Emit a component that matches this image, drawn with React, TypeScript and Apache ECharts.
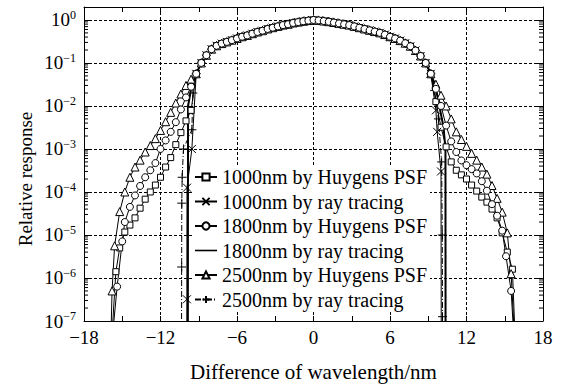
import React, { useEffect, useRef } from 'react';
import * as echarts from 'echarts';

const FONT = 'Liberation Serif, Times New Roman, Times, serif';

// Series names in legend order
const seriesNames = [
  '1000nm by Huygens PSF',
  '1000nm by ray tracing',
  '1800nm by Huygens PSF',
  '1800nm by ray tracing',
  '2500nm by Huygens PSF',
  '2500nm by ray tracing',
];

// Shared main lobe (all six curves overlap here)
const centerX = [
  -9.2, -8.8, -8.4, -8.0, -7.6, -7.2, -6.8, -6.4, -6.0, -5.6, -5.2, -4.8, -4.4, -4.0, -3.6, -3.2,
  -2.8, -2.4, -2.0, -1.6, -1.2, -0.8, -0.4, 0.0, 0.4, 0.8, 1.2, 1.6, 2.0, 2.4, 2.8, 3.2, 3.6, 4.0,
  4.4, 4.8, 5.2, 5.6, 6.0, 6.4, 6.8, 7.2, 7.6, 8.0, 8.4, 8.8, 9.2,
];
const centerY = [
  0.056, 0.1, 0.151, 0.209, 0.251, 0.282, 0.309, 0.339, 0.372, 0.407, 0.437, 0.479, 0.525, 0.562,
  0.617, 0.661, 0.708, 0.759, 0.794, 0.851, 0.891, 0.933, 0.966, 1.0, 0.977, 0.944, 0.912, 0.871,
  0.832, 0.794, 0.759, 0.708, 0.661, 0.617, 0.575, 0.537, 0.501, 0.457, 0.407, 0.372, 0.331, 0.288,
  0.245, 0.195, 0.145, 0.1, 0.056,
];

// 1000nm, Huygens PSF tails
const h1000LeftX = [-15.8, -15.5, -15.2, -14.8, -14.4, -14.0, -13.6, -13.2, -12.8, -12.4, -12.0, -11.6, -11.2, -10.8, -10.4, -10.0, -9.6];
const h1000LeftY = [5e-8, 1.4e-6, 5.0e-6, 1.17e-5, 1.7e-5, 2.5e-5, 4.2e-5, 6.8e-5, 1.0e-4, 1.45e-4, 2.2e-4, 3.8e-4, 6.3e-4, 1.26e-3, 2.4e-3, 4.5e-3, 7.9e-3];
const h1000RightX = [9.6, 10.0, 10.4, 10.8, 11.2, 11.6, 12.0, 12.4, 12.8, 13.2, 13.6, 14.0, 14.4, 14.8, 15.2, 15.6, 15.8];
const h1000RightY = [1.26e-2, 3.2e-3, 1.12e-3, 5.0e-4, 3.2e-4, 2.5e-4, 2.0e-4, 1.45e-4, 1.05e-4, 7.6e-5, 5.8e-5, 4.0e-5, 2.5e-5, 1.12e-5, 4.0e-6, 1.6e-6, 5e-8];

// 1800nm, Huygens PSF tails
const h1800LeftX = [-15.75, -15.4, -15.0, -14.8, -14.4, -14.0, -13.6, -13.2, -12.8, -12.4, -12.0, -11.6, -11.2, -10.8, -10.4, -10.0, -9.6];
const h1800LeftY = [5e-8, 6.3e-7, 7.1e-6, 2.0e-5, 4.5e-5, 8.3e-5, 1.38e-4, 2.2e-4, 3.2e-4, 4.7e-4, 1.0e-3, 1.58e-3, 2.5e-3, 4.2e-3, 8.3e-3, 1.58e-2, 2.8e-2];
const h1800RightX = [9.6, 10.0, 10.4, 10.8, 11.2, 11.6, 12.0, 12.4, 12.8, 13.2, 13.6, 14.0, 14.4, 14.8, 15.1, 15.5, 15.7];
const h1800RightY = [2.5e-2, 1.0e-2, 3.5e-3, 1.5e-3, 8.5e-4, 5.4e-4, 4.2e-4, 3.4e-4, 2.7e-4, 1.78e-4, 1.07e-4, 5.2e-5, 2.8e-5, 1.26e-5, 3.2e-6, 5.0e-7, 5e-8];

// 2500nm, Huygens PSF tails
const h2500LeftX = [-15.9, -15.8, -15.6, -15.2, -14.8, -14.4, -14.0, -13.6, -13.2, -12.8, -12.4, -12.0, -11.6, -11.2, -10.8, -10.4, -10.0, -9.6];
const h2500LeftY = [3.2e-8, 5.0e-7, 5.6e-6, 3.5e-5, 1.0e-4, 2.2e-4, 3.8e-4, 5.5e-4, 8.5e-4, 1.2e-3, 1.74e-3, 2.7e-3, 4.3e-3, 7.1e-3, 1.17e-2, 1.9e-2, 3.0e-2, 4.2e-2];
const h2500RightX = [9.6, 10.0, 10.4, 10.8, 11.2, 11.6, 12.0, 12.4, 12.8, 13.2, 13.6, 14.0, 14.4, 14.8, 15.2, 15.5, 15.75];
const h2500RightY = [3.2e-2, 1.78e-2, 1.0e-2, 5.0e-3, 2.5e-3, 1.66e-3, 1.15e-3, 7.9e-4, 5.5e-4, 3.8e-4, 2.6e-4, 1.41e-4, 7.1e-5, 3.4e-5, 1.12e-5, 1.26e-6, 5e-8];

// Ray-tracing edges (sharp cut-off)
const r1000LeftX = [-9.95, -9.93, -9.92, -9.54];
const r1000LeftY = [1e-9, 3.2e-7, 1.26e-4, 1.0e-3];
const r1000RightX = [9.6, 9.7, 10.0, 10.03];
const r1000RightY = [7.9e-3, 2.5e-3, 3.0e-4, 1e-9];

const r1800LeftX = [-9.86, -9.84, -9.6];
const r1800LeftY = [1e-9, 1.0e-2, 2.5e-2];
const r1800RightX = [9.6, 10.2, 10.35, 10.36];
const r1800RightY = [2.5e-2, 3.2e-3, 1.0e-3, 1e-9];

const r2500LeftX = [-10.36, -10.34, -10.33, -10.3, -10.2, -9.54, -9.46];
const r2500LeftY = [1e-9, 1.8e-6, 5.5e-5, 2.2e-4, 1.0e-3, 2.8e-3, 2.0e-2];
const r2500RightX = [9.5, 9.8, 10.05, 10.1, 10.12, 10.14];
const r2500RightY = [2.3e-2, 5.0e-3, 5.0e-4, 1.0e-5, 1.26e-7, 1e-9];

// Minor tick positions on the logarithmic axis
const minorMultipliers = [2, 3, 4, 5, 6, 7, 8, 9];
const minorDecades = [-7, -6, -5, -4, -3, -2, -1];

const pairs = (xs: number[], ys: number[]) => xs.map((x, i) => [x, ys[i]]);
const curve = (lx: number[], ly: number[], rx: number[], ry: number[]) => [
  ...pairs(lx, ly),
  ...pairs(centerX, centerY),
  ...pairs(rx, ry),
];

const markerStyle = { color: '#fff', borderColor: '#000', borderWidth: 1 };
const strokeOnly = { color: 'none', borderColor: '#000', borderWidth: 1 };

export default function App() {
  const ref = useRef<HTMLDivElement>(null);

  useEffect(() => {
    document.body.style.margin = '0';
    const chart = echarts.init(ref.current!, null, { renderer: 'svg' });

    const minorData: number[][] = [];
    minorDecades.forEach((d) => minorMultipliers.forEach((m) => minorData.push([-18, m * Math.pow(10, d)])));

    const lineBase = (name: string) => ({
      name,
      type: 'line',
      xAxisIndex: 0,
      yAxisIndex: 0,
      clip: true,
      showAllSymbol: true,
      z: 3,
    });

    const sup = (e: number) => (e < 0 ? '\u2212' + -e : String(e));

    // Plain solid stroke for the marker-less series in the legend
    const legendData = seriesNames.map((name) =>
      name === '1800nm by ray tracing' ? { name, icon: 'path://M0,0L22,0L22,1.6L0,1.6Z' } : { name },
    );

    chart.setOption({
      animation: false,
      backgroundColor: '#fff',
      textStyle: { fontFamily: FONT, color: '#000' },
      grid: { left: 84, right: 23, top: 7, bottom: 68, containLabel: false },
      legend: {
        data: legendData,
        orient: 'vertical',
        left: 192,
        top: 165,
        itemWidth: 22,
        itemHeight: 9,
        itemGap: 4.5,
        symbolKeepAspect: true,
        padding: [2, 3, 2, 2],
        backgroundColor: '#fff',
        selectedMode: false,
        textStyle: { fontFamily: FONT, fontSize: 20, color: '#000', lineHeight: 20 },
        z: 10,
      },
      xAxis: [
        {
          type: 'value',
          position: 'bottom',
          min: -18,
          max: 18,
          interval: 3,
          name: 'Difference of wavelength/nm',
          nameLocation: 'middle',
          nameGap: 40,
          nameTextStyle: { fontFamily: FONT, fontSize: 21, color: '#000' },
          axisLine: { show: true, onZero: false, lineStyle: { color: '#000', width: 1 } },
          axisTick: { show: true, inside: true, length: 5, lineStyle: { color: '#000' } },
          axisLabel: {
            margin: 7,
            fontFamily: FONT,
            fontSize: 19,
            color: '#000',
            formatter: (v: number) => (Math.round(v) % 6 === 0 ? (v < 0 ? '\u2212' + -v : String(v)) : ''),
          },
          splitLine: { show: false },
        },
        {
          type: 'value',
          position: 'top',
          min: -18,
          max: 18,
          interval: 3,
          axisLine: { show: true, onZero: false, lineStyle: { color: '#000', width: 1 } },
          axisTick: { show: true, inside: true, length: 5, lineStyle: { color: '#000' } },
          axisLabel: { show: false },
          splitLine: { show: false },
        },
        {
          type: 'value',
          position: 'bottom',
          min: -18,
          max: 18,
          interval: 6,
          axisLine: { show: false },
          axisTick: { show: false },
          axisLabel: { show: false },
          splitLine: { show: true, lineStyle: { color: '#000', width: 1, type: [3, 2] } },
        },
      ],
      yAxis: [
        {
          type: 'log',
          logBase: 10,
          position: 'left',
          min: 1e-7,
          max: 2,
          interval: 1,
          axisLine: { show: true, onZero: false, lineStyle: { color: '#000', width: 1 } },
          axisTick: { show: true, inside: true, length: 7, lineStyle: { color: '#000' } },
          axisLabel: {
            margin: 8,
            showMaxLabel: false,
            formatter: (v: number) => {
              const l = Math.log10(v);
              const e = Math.round(l);
              if (Math.abs(l - e) > 1e-6) return '';
              return `{b|10}{s|${sup(e)}}`;
            },
            rich: {
              b: { fontFamily: FONT, fontSize: 19, color: '#000', lineHeight: 22 },
              s: { fontFamily: FONT, fontSize: 12, color: '#000', lineHeight: 12, verticalAlign: 'top' },
            },
          },
          splitLine: { show: true, lineStyle: { color: '#000', width: 1, type: [3, 2] } },
        },
        {
          type: 'log',
          logBase: 10,
          position: 'right',
          min: 1e-7,
          max: 2,
          interval: 1,
          axisLine: { show: true, onZero: false, lineStyle: { color: '#000', width: 1 } },
          axisTick: { show: true, inside: true, length: 7, lineStyle: { color: '#000' } },
          axisLabel: { show: false },
          splitLine: { show: false },
        },
      ],
      graphic: [
        {
          type: 'text',
          x: 25,
          y: 179,
          rotation: Math.PI / 2,
          style: {
            text: 'Relative response',
            fontFamily: FONT,
            fontSize: 19,
            fill: '#000',
            textAlign: 'center',
            textVerticalAlign: 'middle',
          },
        },
      ],
      series: [
        {
          type: 'custom',
          name: 'minor-ticks',
          xAxisIndex: 0,
          yAxisIndex: 0,
          silent: true,
          z: 5,
          data: minorData,
          encode: { x: 0, y: 1 },
          renderItem: (_p: any, api: any) => {
            const v = api.value(1);
            const a = api.coord([-18, v]);
            const b = api.coord([18, v]);
            return {
              type: 'group',
              children: [
                { type: 'line', shape: { x1: a[0], y1: a[1], x2: a[0] + 4, y2: a[1] }, style: { stroke: '#000', lineWidth: 1 } },
                { type: 'line', shape: { x1: b[0] - 4, y1: b[1], x2: b[0], y2: b[1] }, style: { stroke: '#000', lineWidth: 1 } },
              ],
            };
          },
        },
        {
          ...lineBase(seriesNames[0]),
          data: curve(h1000LeftX, h1000LeftY, h1000RightX, h1000RightY),
          symbol: 'rect',
          symbolSize: 6,
          itemStyle: markerStyle,
          lineStyle: { color: '#000', width: 1 },
        },
        {
          ...lineBase(seriesNames[1]),
          data: curve(r1000LeftX, r1000LeftY, r1000RightX, r1000RightY),
          symbol: 'path://M0,0L10,10M0,10L10,0',
          symbolSize: 8,
          itemStyle: strokeOnly,
          lineStyle: { color: '#000', width: 1 },
        },
        {
          ...lineBase(seriesNames[4]),
          data: curve(h2500LeftX, h2500LeftY, h2500RightX, h2500RightY),
          symbol: 'triangle',
          symbolSize: 8,
          itemStyle: markerStyle,
          lineStyle: { color: '#000', width: 1 },
        },
        {
          ...lineBase(seriesNames[3]),
          data: curve(r1800LeftX, r1800LeftY, r1800RightX, r1800RightY),
          symbol: 'none',
          itemStyle: { color: '#000' },
          lineStyle: { color: '#000', width: 2 },
        },
        {
          ...lineBase(seriesNames[5]),
          data: curve(r2500LeftX, r2500LeftY, r2500RightX, r2500RightY),
          symbol: 'path://M5,0L5,10M0,5L10,5',
          symbolSize: 9,
          itemStyle: strokeOnly,
          lineStyle: { color: '#000', width: 1, type: [6, 2, 1, 2] },
        },
        {
          ...lineBase(seriesNames[2]),
          data: curve(h1800LeftX, h1800LeftY, h1800RightX, h1800RightY),
          symbol: 'circle',
          symbolSize: 7,
          itemStyle: markerStyle,
          lineStyle: { color: '#000', width: 1 },
        },
      ],
    });

    return () => chart.dispose();
  }, []);

  return <div ref={ref} style={{ width: 566, height: 389 }} />;
}
